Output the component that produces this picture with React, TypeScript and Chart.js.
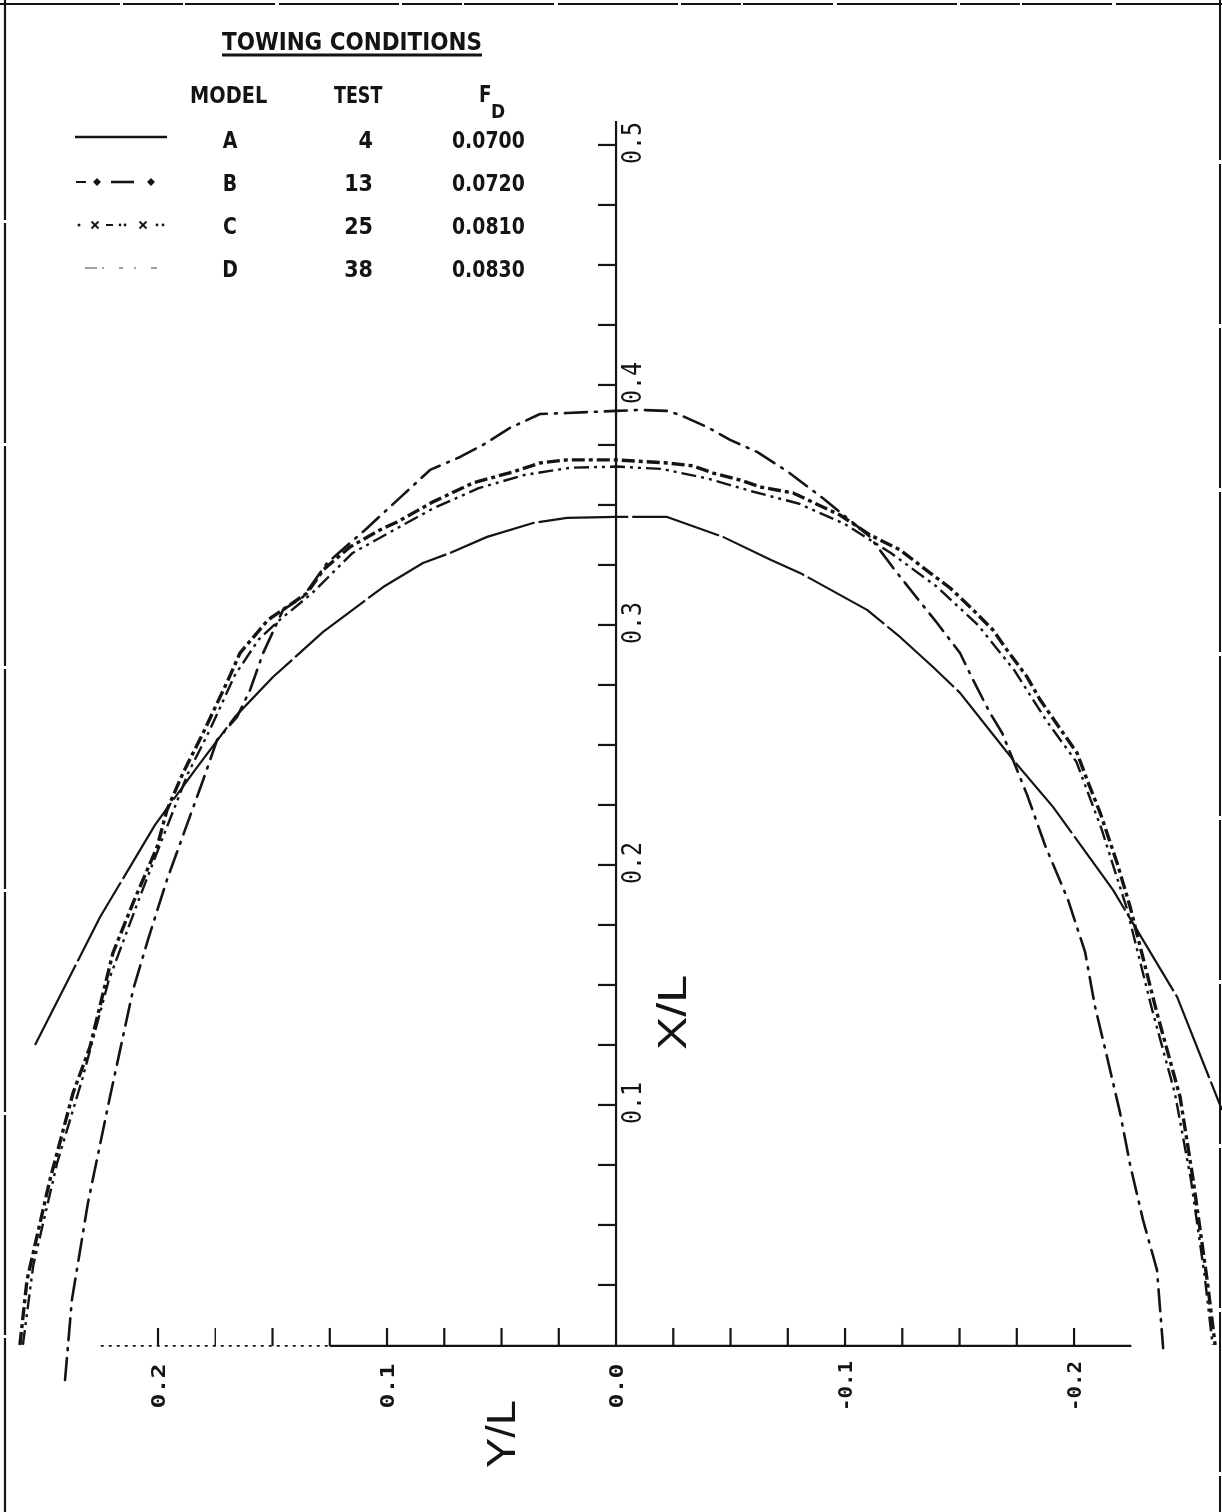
import React, { useEffect, useRef } from 'react';
import { Chart, registerables } from 'chart.js';

Chart.register(...registerables);

// ---------- data ----------
// horizontal axis = Y/L (reversed, positive to the left), vertical axis = X/L
const YL_RANGE = [-0.2646, 0.269];
const XL_RANGE = [-0.0696, 0.5604];

const X_TICK_LABELS = [0.2, 0.1, 0.0, -0.1, -0.2];
const Y_TICK_LABELS = [0.1, 0.2, 0.3, 0.4, 0.5];

const LEGEND_TITLE = 'TOWING CONDITIONS';
const LEGEND_HEADERS = ['MODEL', 'TEST', 'F', 'D'];
const MODELS = ['A', 'B', 'C', 'D'];
const TESTS = [4, 13, 25, 38];
const FD_VALUES = ['0.0700', '0.0720', '0.0810', '0.0830'];

const MODEL_A_YL = [0.2537, 0.2253, 0.2013, 0.1838, 0.1664, 0.1498, 0.1279, 0.1017, 0.0843, 0.0725, 0.0563, 0.0362, 0.0214, 0.0, -0.0223, -0.0467, -0.0677, -0.0803, -0.1096, -0.124, -0.1384, -0.1502, -0.162, -0.1734, -0.1908, -0.217, -0.245, -0.2646];
const MODEL_A_XL = [0.125, 0.1783, 0.2167, 0.2396, 0.2617, 0.2783, 0.2971, 0.3158, 0.3258, 0.33, 0.3367, 0.3425, 0.3446, 0.345, 0.345, 0.3367, 0.3271, 0.3217, 0.3063, 0.295, 0.2825, 0.2717, 0.2575, 0.2438, 0.2242, 0.1896, 0.145, 0.0979];

const MODEL_B_YL = [0.2406, 0.2376, 0.2306, 0.221, 0.2109, 0.2044, 0.1961, 0.1882, 0.1803, 0.1742, 0.1655, 0.1598, 0.1541, 0.1454, 0.1367, 0.1262, 0.1096, 0.093, 0.0812, 0.0681, 0.0581, 0.0463, 0.0332, 0.0214, 0.0, -0.0105, -0.0223, -0.0279, -0.0397, -0.0498, -0.0616, -0.0751, -0.0913, -0.1109, -0.121, -0.1297, -0.1402, -0.1502, -0.1559, -0.1633, -0.1686, -0.1795, -0.1873, -0.1974, -0.2048, -0.2092, -0.2144, -0.2201, -0.2245, -0.2301, -0.2362, -0.2389];
const MODEL_B_XL = [-0.0146, 0.0188, 0.0592, 0.1033, 0.1479, 0.1688, 0.1938, 0.2146, 0.2354, 0.2521, 0.2617, 0.2729, 0.2883, 0.3063, 0.3117, 0.3258, 0.3396, 0.3542, 0.3646, 0.37, 0.375, 0.3821, 0.3879, 0.3883, 0.3892, 0.3896, 0.3892, 0.3875, 0.3825, 0.3771, 0.3721, 0.3638, 0.3521, 0.3367, 0.3238, 0.3133, 0.3008, 0.2883, 0.2771, 0.2633, 0.255, 0.2292, 0.2083, 0.1854, 0.1638, 0.1408, 0.12, 0.0967, 0.075, 0.0521, 0.0313, -0.0013];

const MODEL_C_YL = [0.2603, 0.2572, 0.2472, 0.2371, 0.2297, 0.2197, 0.2109, 0.2004, 0.1961, 0.1891, 0.1803, 0.1694, 0.1642, 0.152, 0.1349, 0.1279, 0.1162, 0.1031, 0.0956, 0.0799, 0.0624, 0.045, 0.0332, 0.0214, 0.0, -0.0223, -0.0336, -0.0424, -0.0541, -0.0629, -0.0773, -0.0978, -0.1109, -0.124, -0.1371, -0.1459, -0.1559, -0.1646, -0.1707, -0.1795, -0.1852, -0.1952, -0.2013, -0.2057, -0.2114, -0.2188, -0.2245, -0.2362, -0.2463, -0.252, -0.2581, -0.2616];
const MODEL_C_XL = [0.0, 0.0271, 0.0688, 0.105, 0.1242, 0.1633, 0.1842, 0.2075, 0.2229, 0.2383, 0.255, 0.2771, 0.2883, 0.3021, 0.3133, 0.3229, 0.3325, 0.3396, 0.3429, 0.3513, 0.3592, 0.3638, 0.3675, 0.3688, 0.3688, 0.3675, 0.3663, 0.3633, 0.3604, 0.3575, 0.355, 0.3458, 0.3375, 0.3313, 0.3217, 0.3154, 0.3063, 0.2979, 0.2896, 0.2783, 0.2688, 0.255, 0.2467, 0.2354, 0.2217, 0.2008, 0.1825, 0.1383, 0.1033, 0.0688, 0.0271, 0.0];

const MODEL_D_YL = [0.259, 0.2545, 0.244, 0.233, 0.2215, 0.209, 0.1985, 0.187, 0.1775, 0.1665, 0.156, 0.147, 0.133, 0.115, 0.099, 0.08, 0.06, 0.04, 0.02, 0.0, -0.02, -0.04, -0.06, -0.08, -0.1, -0.12, -0.14, -0.158, -0.174, -0.188, -0.201, -0.212, -0.223, -0.234, -0.244, -0.251, -0.257, -0.2605];
const MODEL_D_XL = [0.0, 0.033, 0.076, 0.111, 0.152, 0.184, 0.21, 0.238, 0.256, 0.279, 0.294, 0.302, 0.313, 0.33, 0.3385, 0.3485, 0.357, 0.3625, 0.3655, 0.366, 0.365, 0.361, 0.3555, 0.3505, 0.342, 0.33, 0.316, 0.3, 0.281, 0.26, 0.243, 0.215, 0.182, 0.14, 0.105, 0.069, 0.029, 0.0];

// ---------- styles ----------
const INK = '#141414';
const SERIES = [
  { label: 'A', yl: MODEL_A_YL, xl: MODEL_A_XL, width: 2.2, dash: [90, 4], cap: 'butt' },
  { label: 'B', yl: MODEL_B_YL, xl: MODEL_B_XL, width: 2.6, dash: [22, 8, 2, 8], cap: 'round' },
  { label: 'C', yl: MODEL_C_YL, xl: MODEL_C_XL, width: 3.4, dash: [13, 4, 4, 4], cap: 'butt' },
  { label: 'D', yl: MODEL_D_YL, xl: MODEL_D_XL, width: 2.4, dash: [15, 5, 3, 5, 3, 5], cap: 'butt' },
];

function rotLabel(ctx: CanvasRenderingContext2D, text: string, baseX: number, centerY: number, length: number, font: string) {
  ctx.save();
  ctx.font = font;
  const w = ctx.measureText(text).width || 1;
  ctx.translate(baseX, centerY);
  ctx.rotate(-Math.PI / 2);
  ctx.scale(length / w, 1);
  ctx.textAlign = 'center';
  ctx.textBaseline = 'alphabetic';
  ctx.fillText(text, 0, 0);
  ctx.restore();
}

function flatText(ctx: CanvasRenderingContext2D, text: string, x: number, y: number, align: CanvasTextAlign, font: string, sx: number) {
  ctx.save();
  ctx.font = font;
  ctx.textAlign = align;
  ctx.textBaseline = 'alphabetic';
  ctx.translate(x, y);
  ctx.scale(sx, 1);
  ctx.fillText(text, 0, 0);
  ctx.restore();
}

function seg(ctx: CanvasRenderingContext2D, x1: number, y1: number, x2: number, y2: number, w: number, dash: number[] = []) {
  ctx.save();
  ctx.lineWidth = w;
  ctx.setLineDash(dash);
  ctx.beginPath();
  ctx.moveTo(x1, y1);
  ctx.lineTo(x2, y2);
  ctx.stroke();
  ctx.restore();
}

const paperPlugin = {
  id: 'paper',
  beforeDraw(chart: any) {
    const { ctx, width, height } = chart;
    ctx.save();
    ctx.fillStyle = '#ffffff';
    ctx.fillRect(0, 0, width, height);
    ctx.restore();
  },
  beforeDatasetsDraw(chart: any) {
    const ctx: CanvasRenderingContext2D = chart.ctx;
    const xs = chart.scales.x;
    const ys = chart.scales.y;
    const px = (v: number) => xs.getPixelForValue(v);
    const py = (v: number) => ys.getPixelForValue(v);
    ctx.save();
    ctx.strokeStyle = INK;
    ctx.fillStyle = INK;

    // frame
    seg(ctx, 0, 4, chart.width, 4, 2, [120, 3, 60, 2, 90, 4]);
    seg(ctx, 5, 0, 5, chart.height, 2.2, [220, 3]);
    seg(ctx, 1220, 0, 1220, chart.height, 2, [160, 4]);

    // vertical axis (X/L)
    const ax = px(0);
    seg(ctx, ax, py(0) + 1, ax, py(0.51), 2.2);
    for (let k = 1; k <= 20; k++) {
      const y = py(k * 0.025);
      seg(ctx, ax - 18, y, ax, y, 2.2);
    }
    // horizontal axis (Y/L)
    const ay = py(0) + 1;
    seg(ctx, px(0.225), ay, px(0.125), ay, 1.8, [3, 5]);
    seg(ctx, px(0.125), ay, px(-0.225), ay, 2.2);
    for (let k = -8; k <= 8; k++) {
      if (k === 0) continue;
      const x = px(k * 0.025);
      seg(ctx, x, ay, x, ay - 18, k === 7 ? 1.4 : 2.2);
    }

    // tick labels
    Y_TICK_LABELS.forEach((v) => {
      rotLabel(ctx, v.toFixed(1), ax + 25, py(v) - 2, 42, "27px 'DejaVu Sans Mono'");
    });
    X_TICK_LABELS.forEach((v) => {
      const t = v.toFixed(1);
      rotLabel(ctx, t, px(v) + 7, ay + 40, t.startsWith('-') ? 50 : 45, "bold 20px 'DejaVu Sans Mono'");
    });

    // axis titles
    rotLabel(ctx, 'X/L', ax + 70, py(0.1385), 75, "40px 'Liberation Sans'");
    rotLabel(ctx, 'Y/L', px(0.0441), ay + 88, 68, "40px 'Liberation Sans'");

    // legend table
    ctx.save();
    ctx.font = "bold 24px 'DejaVu Sans'";
    const tw = ctx.measureText(LEGEND_TITLE).width;
    ctx.restore();
    flatText(ctx, LEGEND_TITLE, 222, 50, 'left', "bold 24px 'DejaVu Sans'", 260 / tw);
    seg(ctx, 222, 55, 482, 55, 3);

    const LF = "bold 23px 'DejaVu Sans'";
    flatText(ctx, LEGEND_HEADERS[0], 190, 103, 'left', LF, 0.84);
    flatText(ctx, LEGEND_HEADERS[1], 334, 103, 'left', LF, 0.76);
    flatText(ctx, LEGEND_HEADERS[2], 479, 102, 'left', LF, 0.8);
    flatText(ctx, LEGEND_HEADERS[3], 491, 118, 'left', "bold 20px 'DejaVu Sans'", 0.85);

    MODELS.forEach((m, i) => {
      const by = 148 + i * 43;
      flatText(ctx, m, 230, by, 'center', LF, 0.82);
      flatText(ctx, String(TESTS[i]), 373, by, 'right', LF, 0.9);
      flatText(ctx, FD_VALUES[i], 452, by, 'left', LF, 0.82);
    });

    // legend line samples
    const sy = [137, 182, 225, 268];
    seg(ctx, 75, sy[0], 167, sy[0], 2.4);
    // B
    seg(ctx, 76, sy[1], 86, sy[1], 2);
    const diamond = (x: number, y: number, r: number) => {
      ctx.beginPath();
      ctx.moveTo(x, y - r); ctx.lineTo(x + r, y); ctx.lineTo(x, y + r); ctx.lineTo(x - r, y);
      ctx.closePath(); ctx.fill();
    };
    diamond(97, sy[1], 4);
    seg(ctx, 111, sy[1], 134, sy[1], 2.6);
    diamond(151, sy[1], 4);
    // C
    const dot = (x: number, y: number, r: number) => { ctx.beginPath(); ctx.arc(x, y, r, 0, Math.PI * 2); ctx.fill(); };
    const cross = (x: number, y: number, r: number) => {
      seg(ctx, x - r, y - r, x + r, y + r, 1.8); seg(ctx, x - r, y + r, x + r, y - r, 1.8);
    };
    dot(79, sy[2], 1.5); cross(95, sy[2], 3.5); seg(ctx, 106, sy[2], 113, sy[2], 2);
    dot(120, sy[2], 1.4); dot(125, sy[2], 1.4); cross(143, sy[2], 3.5); dot(157, sy[2], 1.4); dot(163, sy[2], 1.4);
    // D
    ctx.save();
    ctx.strokeStyle = '#8a8a8a'; ctx.fillStyle = '#8a8a8a';
    seg(ctx, 85, sy[3], 97, sy[3], 1.6); dot(103, sy[3], 1.1); seg(ctx, 119, sy[3], 123, sy[3], 1.6);
    dot(135, sy[3], 1.1); seg(ctx, 151, sy[3], 157, sy[3], 1.6);
    ctx.restore();

    ctx.restore();
  },
};

export default function App() {
  const ref = useRef<HTMLCanvasElement | null>(null);
  useEffect(() => {
    document.body.style.margin = '0';
    const canvas = ref.current;
    if (!canvas) return;
    const chart = new Chart(canvas, {
      type: 'scatter',
      data: {
        datasets: SERIES.map((s) => ({
          label: s.label,
          data: s.yl.map((v, i) => ({ x: v, y: s.xl[i] })),
          showLine: true,
          fill: false,
          borderColor: INK,
          backgroundColor: INK,
          borderWidth: s.width,
          borderDash: s.dash,
          borderCapStyle: s.cap as CanvasLineCap,
          borderJoinStyle: 'round',
          pointRadius: 0,
          pointHoverRadius: 0,
          tension: 0,
        })),
      },
      options: {
        animation: false,
        responsive: false,
        maintainAspectRatio: false,
        devicePixelRatio: 1,
        layout: { padding: 0 },
        events: [],
        plugins: { legend: { display: false }, tooltip: { enabled: false }, title: { display: false } },
        scales: {
          x: { type: 'linear', reverse: true, min: YL_RANGE[0], max: YL_RANGE[1], display: false },
          y: { type: 'linear', min: XL_RANGE[0], max: XL_RANGE[1], display: false },
        },
      },
      plugins: [paperPlugin],
    } as any);
    return () => chart.destroy();
  }, []);
  return (
    <div style={{ width: 1222, height: 1512, background: '#fff' }}>
      <canvas ref={ref} width={1222} height={1512} style={{ display: 'block', width: 1222, height: 1512 }} />
    </div>
  );
}
